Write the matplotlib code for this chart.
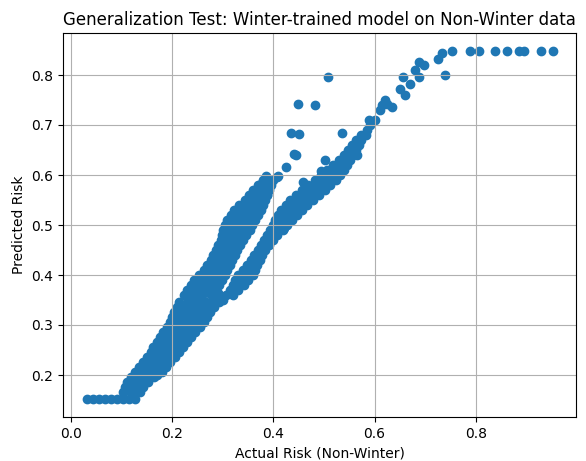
import matplotlib
matplotlib.use("Agg")
import matplotlib.pyplot as plt
import numpy as np

# ---- data ----
# Each row: (predicted risk, [actual risk values of the points in that row])

floor_rows = [
    (0.152, [0.031, 0.043, 0.055, 0.067, 0.079, 0.091, 0.103, 0.115, 0.127]),
]

merged_rows = [
    (0.166, [0.102, 0.119, 0.137]),
    (0.171, [0.113, 0.131]),
    (0.176, [0.106, 0.124, 0.143]),
    (0.181, [0.118, 0.138]),
    (0.186, [0.110, 0.131, 0.153]),
    (0.191, [0.125, 0.148]),
    (0.196, [0.118, 0.141, 0.165]),
    (0.201, [0.133, 0.152, 0.170]),
    (0.206, [0.127, 0.144, 0.161, 0.179]),
    (0.211, [0.140, 0.157, 0.174]),
    (0.216, [0.135, 0.152, 0.170, 0.187]),
    (0.221, [0.148, 0.165, 0.182]),
    (0.226, [0.143, 0.160, 0.178, 0.195]),
    (0.231, [0.156, 0.174, 0.192]),
    (0.236, [0.151, 0.169, 0.187, 0.205]),
    (0.241, [0.164, 0.182, 0.200]),
    (0.246, [0.159, 0.177, 0.196, 0.214]),
    (0.251, [0.170, 0.189, 0.208]),
    (0.256, [0.163, 0.182, 0.202, 0.222]),
    (0.261, [0.176, 0.196, 0.216]),
    (0.266, [0.169, 0.188, 0.210, 0.230]),
    (0.271, [0.182, 0.203, 0.224]),
    (0.276, [0.175, 0.196, 0.217, 0.238]),
    (0.281, [0.188, 0.210, 0.231]),
    (0.286, [0.181, 0.202, 0.223, 0.246]),
    (0.291, [0.195, 0.217, 0.239]),
    (0.296, [0.189, 0.209, 0.231, 0.254]),
    (0.301, [0.202, 0.224, 0.247]),
    (0.306, [0.195, 0.216, 0.239, 0.262]),
    (0.311, [0.208, 0.230, 0.253]),
    (0.316, [0.199, 0.221, 0.244, 0.268]),
    (0.321, [0.212, 0.236, 0.259]),
    (0.326, [0.203, 0.225, 0.249, 0.274]),
    (0.331, [0.217, 0.241, 0.266]),
    (0.336, [0.209, 0.231, 0.256, 0.282]),
    (0.341, [0.223, 0.249, 0.275]),
    (0.346, [0.214, 0.239, 0.267, 0.293]),
    (0.351, [0.231, 0.255, 0.280, 0.300]),
]

upper_rows = [
    (0.360, [0.223, 0.241, 0.259, 0.278, 0.293]),
    (0.365, [0.236, 0.254, 0.272, 0.290]),
    (0.370, [0.230, 0.249, 0.267, 0.286]),
    (0.375, [0.243, 0.261, 0.280]),
    (0.380, [0.237, 0.255, 0.275, 0.293]),
    (0.385, [0.250, 0.269, 0.287]),
    (0.390, [0.244, 0.263, 0.281, 0.299]),
    (0.395, [0.257, 0.276, 0.293]),
    (0.400, [0.253, 0.271, 0.287, 0.304]),
    (0.405, [0.266, 0.282, 0.299]),
    (0.410, [0.262, 0.278, 0.294, 0.309]),
    (0.415, [0.273, 0.289, 0.304]),
    (0.420, [0.269, 0.285, 0.299, 0.314]),
    (0.425, [0.280, 0.295, 0.309]),
    (0.430, [0.276, 0.291, 0.304, 0.319]),
    (0.435, [0.286, 0.300, 0.314]),
    (0.440, [0.281, 0.295, 0.310, 0.324]),
    (0.445, [0.291, 0.305, 0.319]),
    (0.450, [0.286, 0.300, 0.314, 0.329]),
    (0.455, [0.295, 0.310, 0.324]),
    (0.460, [0.291, 0.304, 0.320, 0.334]),
    (0.465, [0.300, 0.315, 0.329]),
    (0.470, [0.296, 0.310, 0.324, 0.339]),
    (0.475, [0.305, 0.320, 0.335]),
    (0.480, [0.298, 0.314, 0.330, 0.346]),
    (0.485, [0.308, 0.324, 0.341]),
    (0.490, [0.301, 0.318, 0.336, 0.353]),
    (0.495, [0.312, 0.329, 0.347]),
    (0.500, [0.305, 0.323, 0.340, 0.358]),
    (0.505, [0.316, 0.334, 0.352]),
    (0.510, [0.309, 0.327, 0.345, 0.363]),
    (0.515, [0.321, 0.339, 0.357]),
    (0.520, [0.316, 0.334, 0.351, 0.369]),
    (0.525, [0.328, 0.346, 0.363]),
    (0.530, [0.323, 0.340, 0.358, 0.375]),
    (0.535, [0.336, 0.352, 0.369]),
    (0.540, [0.333, 0.348, 0.364, 0.379]),
    (0.545, [0.345, 0.360, 0.376]),
    (0.550, [0.343, 0.364, 0.384]),
    (0.555, [0.357, 0.377]),
    (0.560, [0.351, 0.370, 0.388]),
    (0.565, [0.364, 0.383]),
    (0.570, [0.359, 0.376, 0.392]),
    (0.575, [0.370, 0.387]),
    (0.580, [0.369, 0.382, 0.396]),
    (0.585, [0.378, 0.392]),
    (0.590, [0.379, 0.400]),
    (0.598, [0.385, 0.409]),
]

lower_rows = [
    (0.360, [0.307, 0.321]),
    (0.365, [0.318]),
    (0.370, [0.315, 0.331]),
    (0.375, [0.326]),
    (0.380, [0.321, 0.341]),
    (0.385, [0.333]),
    (0.390, [0.325, 0.349]),
    (0.395, [0.339]),
    (0.400, [0.331, 0.345, 0.359]),
    (0.405, [0.342, 0.356]),
    (0.410, [0.339, 0.351, 0.363]),
    (0.415, [0.350, 0.362]),
    (0.420, [0.347, 0.367]),
    (0.425, [0.360]),
    (0.430, [0.355, 0.373]),
    (0.435, [0.367]),
    (0.440, [0.361, 0.378]),
    (0.445, [0.373]),
    (0.450, [0.369, 0.384]),
    (0.455, [0.380]),
    (0.460, [0.375, 0.392]),
    (0.465, [0.387]),
    (0.470, [0.382, 0.400]),
    (0.475, [0.394]),
    (0.480, [0.388, 0.408]),
    (0.485, [0.401]),
    (0.490, [0.394, 0.418]),
    (0.495, [0.406, 0.420]),
    (0.500, [0.400, 0.413, 0.426]),
    (0.505, [0.410, 0.426]),
    (0.510, [0.404, 0.420, 0.436]),
    (0.515, [0.415, 0.433]),
    (0.520, [0.410, 0.428, 0.446]),
    (0.525, [0.422, 0.441]),
    (0.530, [0.416, 0.436, 0.456]),
    (0.535, [0.430, 0.450]),
    (0.540, [0.424, 0.445, 0.467]),
    (0.545, [0.439, 0.461]),
    (0.550, [0.432, 0.455, 0.479]),
    (0.555, [0.449, 0.472]),
    (0.560, [0.444, 0.464, 0.490]),
    (0.565, [0.460, 0.483]),
    (0.570, [0.456, 0.478, 0.501]),
    (0.575, [0.473, 0.495]),
    (0.580, [0.469, 0.490, 0.512]),
    (0.585, [0.486, 0.507]),
    (0.590, [0.483, 0.503, 0.523]),
    (0.595, [0.498, 0.517]),
    (0.600, [0.494, 0.512, 0.531]),
    (0.605, [0.508, 0.526]),
    (0.610, [0.505, 0.522, 0.539]),
    (0.615, [0.519, 0.535]),
    (0.620, [0.517, 0.531, 0.546]),
    (0.625, [0.530, 0.544]),
    (0.630, [0.529, 0.542, 0.552]),
    (0.635, [0.540, 0.552]),
    (0.640, [0.539, 0.558]),
    (0.645, [0.549]),
    (0.650, [0.548, 0.564]),
    (0.655, [0.557]),
    (0.660, [0.556, 0.569]),
    (0.665, [0.565]),
    (0.670, [0.564, 0.574]),
    (0.680, [0.574, 0.583]),
    (0.690, [0.584]),
    (0.700, [0.591]),
    (0.710, [0.588, 0.600]),
]

sparse_x = [0.611, 0.614, 0.621, 0.624, 0.634, 0.650, 0.660, 0.657, 0.670,
            0.687, 0.680, 0.687, 0.698, 0.726, 0.733, 0.739, 0.565,
            0.449, 0.482, 0.507, 0.435, 0.451, 0.535, 0.441, 0.444,
            0.425, 0.364, 0.382, 0.387, 0.502, 0.459, 0.495, 0.408]
sparse_y = [0.730, 0.740, 0.750, 0.743, 0.737, 0.773, 0.760, 0.797, 0.783,
            0.797, 0.810, 0.827, 0.821, 0.833, 0.845, 0.801, 0.640,
            0.743, 0.740, 0.797, 0.685, 0.682, 0.685, 0.643, 0.640,
            0.617, 0.570, 0.583, 0.560, 0.630, 0.587, 0.609, 0.597]

plateau_x = [0.752, 0.789, 0.806, 0.838, 0.862, 0.885, 0.895, 0.929, 0.952]
plateau_y = [0.848, 0.848, 0.848, 0.848, 0.848, 0.848, 0.848, 0.848, 0.848]


def flatten(rows):
    xs, ys = [], []
    for yv, xlist in rows:
        xs.extend(xlist)
        ys.extend([yv] * len(xlist))
    return xs, ys


actual, predicted = [], []
for rows in (floor_rows, merged_rows, upper_rows, lower_rows):
    xs, ys = flatten(rows)
    actual += xs
    predicted += ys
actual += sparse_x + plateau_x
predicted += sparse_y + plateau_y
actual = np.array(actual)
predicted = np.array(predicted)

fig = plt.figure(figsize=(5.86, 4.61), dpi=100)
ax = fig.add_axes([63 / 586, 1 - 417 / 461, (576 - 63) / 586, (417 - 33) / 461])
ax.scatter(actual, predicted, color="#1f77b4")
ax.set_xlim(-0.0158, 0.998)
ax.set_ylim(0.116, 0.884)
ax.set_title("Generalization Test: Winter-trained model on Non-Winter data")
ax.set_xlabel("Actual Risk (Non-Winter)")
ax.set_ylabel("Predicted Risk")
ax.grid(True)
fig.savefig("out.png", dpi=100)
